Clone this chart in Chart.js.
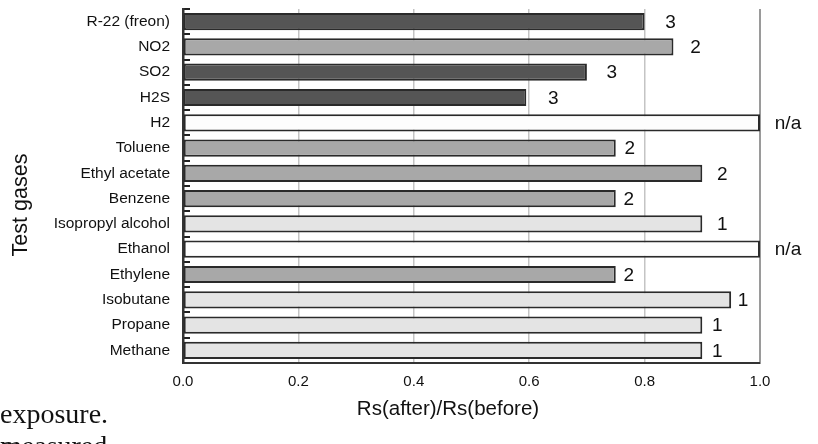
<!DOCTYPE html>
<html><head><meta charset="utf-8">
<script src="https://cdn.jsdelivr.net/npm/chart.js@4/dist/chart.umd.min.js"></script>
<style>
html,body{margin:0;padding:0;background:#fff;overflow:hidden}
#wrap{position:relative;width:818px;height:444px;overflow:hidden}
canvas{position:absolute;left:0;top:0}
.pg{position:absolute;left:0;font-family:"Liberation Serif","DejaVu Serif",serif;font-size:28px;color:#111;white-space:nowrap;line-height:32px}
</style></head>
<body>
<div id="wrap">
<canvas id="c" width="818" height="444"></canvas>
<div class="pg" style="top:398px">exposure.</div>
<div class="pg" style="top:430px">measured</div>
</div>
<script>
// ---- data ----
const gases = ["R-22 (freon)","NO2","SO2","H2S","H2","Toluene","Ethyl acetate","Benzene","Isopropyl alcohol","Ethanol","Ethylene","Isobutane","Propane","Methane"];
const ratio = [0.80,0.85,0.70,0.595,1.0,0.75,0.90,0.75,0.90,1.0,0.75,0.95,0.90,0.90];
const groupLabel = ["3","2","3","3","n/a","2","2","2","1","n/a","2","1","1","1"];
const xTicks = [0.0,0.2,0.4,0.6,0.8,1.0];
const xTitle = "Rs(after)/Rs(before)";
const yTitle = "Test gases";

// ---- styles ----
const shade = {"3":"#555555","2":"#a8a8a8","1":"#e4e4e4","n/a":"#fdfdfd"};
const labelGap = [26,22,25,27,28,14,20,13,20,28,13,12,15,15];
const FONT = "'Liberation Sans', Arial, sans-serif";

const valueLabels = {
  id:'valueLabels',
  afterDatasetsDraw(chart){
    const ctx = chart.ctx, meta = chart.getDatasetMeta(0);
    ctx.save();
    ctx.font = "19px " + FONT;
    ctx.fillStyle = "#111";
    ctx.textAlign = "center";
    ctx.textBaseline = "middle";
    meta.data.forEach((el,i)=>{
      ctx.fillText(groupLabel[i], el.x + labelGap[i], el.y + 1);
    });
    ctx.restore();
  }
};
const axisTitles = {
  id:'axisTitles',
  afterDraw(chart){
    const ctx = chart.ctx;
    ctx.save();
    ctx.fillStyle = "#111";
    ctx.font = "20.5px " + FONT;
    ctx.textAlign = "center";
    ctx.textBaseline = "middle";
    ctx.fillText(xTitle, 448, 409);
    ctx.font = "21.5px " + FONT;
    ctx.translate(21, 205);
    ctx.rotate(-Math.PI/2);
    ctx.fillText(yTitle, 0, 0);
    ctx.restore();
  }
};

new Chart(document.getElementById('c'), {
  type:'bar',
  data:{
    labels: gases,
    datasets:[{
      data: ratio,
      backgroundColor: groupLabel.map(g=>shade[g]),
      borderColor:"#2a2a2a",
      borderWidth:2,
      borderSkipped:false,
      barPercentage:0.68,
      categoryPercentage:1.0
    }]
  },
  options:{
    indexAxis:'y',
    responsive:false,
    animation:false,
    devicePixelRatio:1,
    layout:{padding:{top:9,right:58,left:0,bottom:0}},
    plugins:{legend:{display:false},tooltip:{enabled:false},title:{display:false}},
    scales:{
      x:{
        min:0,max:1,
        afterBuildTicks(s){ s.ticks = xTicks.map(v=>({value:v})); },
        afterFit(s){ s.height = 81; s.paddingLeft = 0; s.paddingRight = 0; },
        ticks:{callback:v=>Number(v).toFixed(1), font:{size:15,family:FONT}, color:"#111", padding:10, maxRotation:0},
        grid:{
          drawTicks:false,
          color:c=> c.tick && c.tick.value===1 ? "#9a9a9a" : (c.tick && c.tick.value===0 ? "rgba(0,0,0,0)" : "#c4c4c4"),
          lineWidth:c=> c.tick && c.tick.value===1 ? 2 : 1.5
        },
        border:{display:true,color:"#333",width:2}
      },
      y:{
        afterFit(s){ s.width = 183; s.paddingTop = 0; s.paddingBottom = 0; },
        ticks:{font:{size:15.5,family:FONT}, color:"#111", padding:20},
        grid:{offset:true, drawOnChartArea:false, drawTicks:true, tickLength:-7, color:"#222", lineWidth:2},
        border:{display:true,color:"#333",width:2.5}
      }
    }
  },
  plugins:[valueLabels, axisTitles]
});
</script>
</body></html>
